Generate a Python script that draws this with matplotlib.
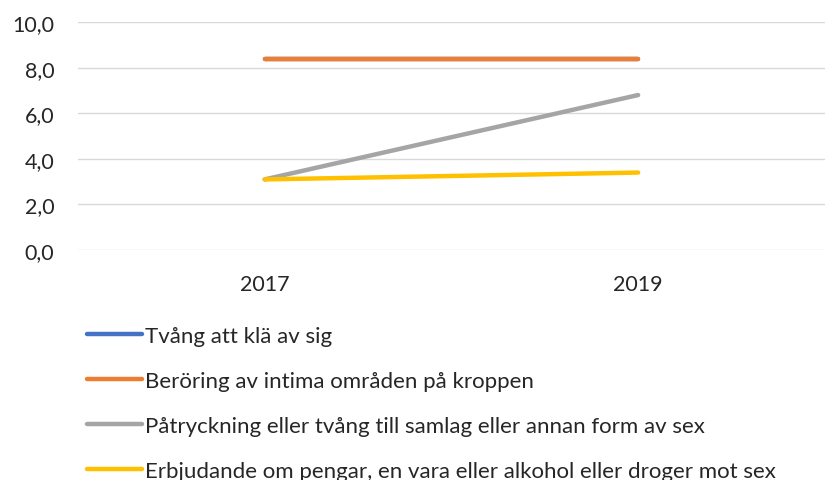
import matplotlib.pyplot as plt
from matplotlib.ticker import FuncFormatter

plt.rcParams['font.family'] = ['Lato', 'DejaVu Sans']

years = ['2017', '2019']
labels = [
    'Tvång att klä av sig',
    'Beröring av intima områden på kroppen',
    'Påtryckning eller tvång till samlag eller annan form av sex',
    'Erbjudande om pengar, en vara eller alkohol eller droger mot sex',
]
tvang = [8.4, 8.4]
beroring = [8.4, 8.4]
patryckning = [3.1, 6.8]
erbjudande = [3.1, 3.4]
colors = ['#4472C4', '#ED7D31', '#A5A5A5', '#FFC000']

fig = plt.figure(figsize=(8.29, 4.81), dpi=100)
ax = fig.add_axes([0.094, 0.478, 0.901, 0.474])

x = range(len(years))
for vals, lab, c in zip([tvang, beroring, patryckning, erbjudande], labels, colors):
    ax.plot(x, vals, color=c, lw=3.2, solid_capstyle='round', label=lab)

ax.set_xlim(-0.5, 1.5)
ax.set_ylim(0, 10)
ax.set_yticks(range(0, 11, 2))
ax.yaxis.set_major_formatter(FuncFormatter(lambda v, p: f'{v:.1f}'.replace('.', ',')))
ax.set_xticks(list(x))
ax.set_xticklabels(years)
ax.grid(axis='y', color='#D9D9D9', lw=1)
ax.set_axisbelow(True)
for s in ax.spines.values():
    s.set_visible(False)
ax.tick_params(length=0, labelsize=15.5, colors='#262626')
ax.tick_params(axis='y', pad=17)
ax.tick_params(axis='x', pad=17)

leg = fig.legend(loc='upper left', bbox_to_anchor=(0.105, 0.32), frameon=False,
                 fontsize=16, handlelength=2.48, handletextpad=0.13, labelspacing=1.12,
                 borderaxespad=0, borderpad=0)
for t in leg.get_texts():
    t.set_color('#262626')
for h in leg.get_lines():
    h.set_linewidth(3.2)

fig.savefig('out.png', dpi=100, facecolor='white')
